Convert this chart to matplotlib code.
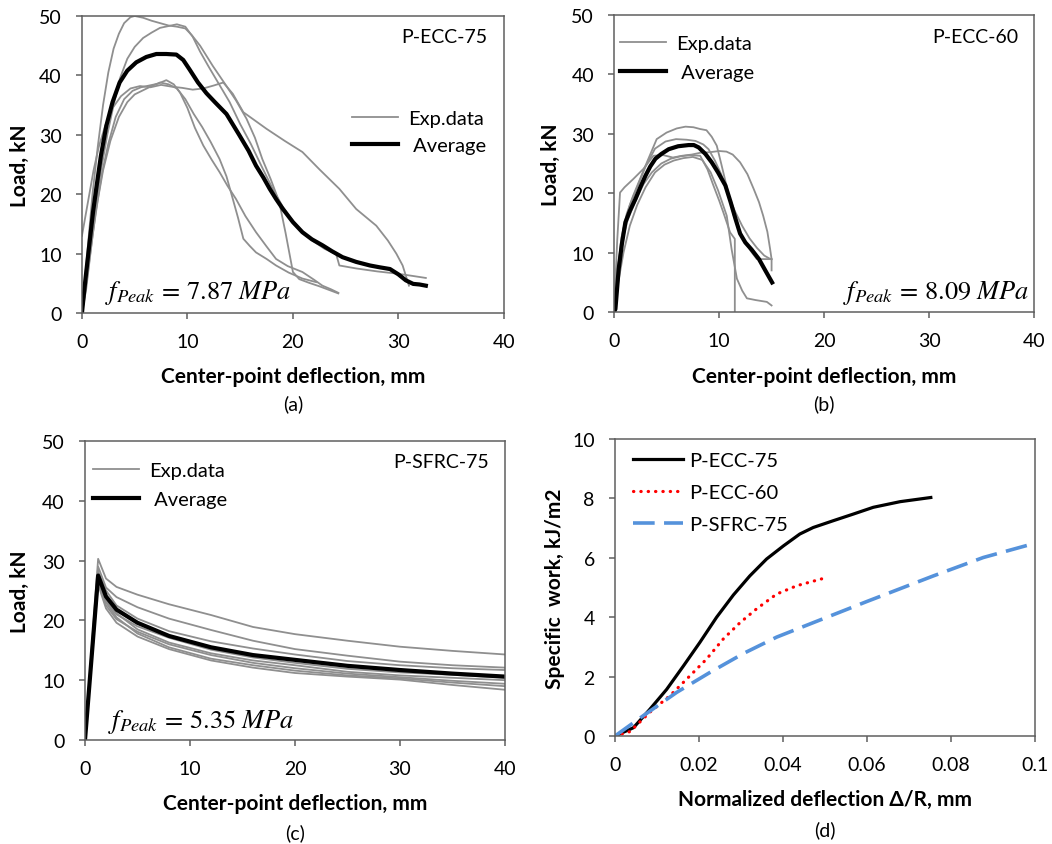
"""
Four-panel load-deflection figure (P-ECC-75, P-ECC-60, P-SFRC-75) plus
specific work vs normalized deflection. Saves out.png.
"""

import matplotlib
matplotlib.use("Agg")
import matplotlib.pyplot as plt
from matplotlib.lines import Line2D

plt.rcParams["font.family"] = ["Lato", "DejaVu Sans"]
plt.rcParams["mathtext.fontset"] = "stix"

GRAY = "#8f8f8f"
FRAME = "#5f5f5f"

# ---------------- (a) P-ECC-75 ----------------
a_avg_x = [0, 0.35, 0.73, 1.05, 1.36, 1.8, 2.31, 2.9, 3.57, 4.3, 5.15, 6.1, 7.05, 8.0, 8.95,
           9.6, 10.2, 11.0, 11.8, 12.6, 13.7, 14.9, 15.8, 16.5, 17.2, 17.8, 18.4, 19.05, 20.0,
           20.9, 21.8, 22.8, 23.7, 24.7, 26.0, 27.3, 28.2, 29.2, 30.0, 30.7, 31.4, 32.0, 32.6]
a_avg_y = [0, 6, 12, 17, 21, 26.5, 31.5, 35.5, 38.8, 40.8, 42.2, 43.1, 43.6, 43.6, 43.5,
           42.6, 41, 38.8, 37, 35.5, 33.5, 30, 27.3, 24.8, 22.8, 20.9, 19.2, 17.5, 15.3,
           13.6, 12.4, 11.4, 10.4, 9.4, 8.6, 8.0, 7.7, 7.4, 6.5, 5.5, 4.9, 4.8, 4.6]

a_exp1_x = [0, 0.3, 0.7, 1.0, 1.5, 2.0, 2.5, 3.0, 3.5, 4.0, 4.6, 5.0, 5.8, 6.6, 7.4, 8.2, 9.0,
            9.8, 10.4, 11.2, 12.4, 13.7, 14.6, 15.6, 16.4, 17.1, 17.9, 18.7, 19.3, 20.0, 20.6,
            21.5, 22.5, 23.4, 24.3]
a_exp1_y = [0, 6, 14, 20, 28, 35, 40.5, 44.5, 47, 48.8, 49.8, 50, 49.7, 49.2, 48.8, 48.4, 48.2,
            47.9, 46.8, 45, 41.6, 38.2, 35.8, 32.7, 29.5, 25.9, 22.5, 18.7, 13.5, 6.9, 5.7,
            5.1, 4.5, 3.9, 3.3]
a_exp2_x = [0, 0.4, 0.8, 1.2, 1.8, 2.4, 3.0, 3.6, 4.3, 5.0, 5.8, 6.6, 7.4, 8.2, 9.0, 9.8, 10.5,
            11.2, 12.0, 13.0, 14.0, 15.0, 16.0, 17.0, 18.0, 19.0, 20.0, 21.0, 22.0, 23.0, 24.1,
            24.4, 26.0, 28.0, 30.0, 31.5, 32.6]
a_exp2_y = [0, 5, 11, 17, 24, 30, 35, 39.5, 42.8, 44.8, 46.3, 47.2, 48, 48.3, 48.6, 48.2, 46.5,
            44, 41.5, 38.5, 35.5, 31.8, 28.5, 24.8, 21.2, 18, 15.5, 13.5, 12, 10.8, 9.9,
            8.0, 7.5, 7.0, 6.6, 6.2, 5.9]
a_exp3_x = [0, 0.4, 0.8, 1.3, 1.9, 2.5, 3.2, 4.0, 4.8, 5.6, 6.4, 7.2, 8.0, 8.7, 9.3, 10.0, 10.7,
            11.5, 12.3, 13.05, 13.8, 14.6, 15.5, 16.5, 17.5, 18.4, 19.5, 20.9, 22.0, 22.8, 23.6,
            24.3]
a_exp3_y = [0, 4, 10, 17, 23.5, 28.5, 33, 36, 37.4, 38, 38.3, 38.6, 39.2, 38.5, 37.1, 34.5, 31.2,
            28.2, 25.8, 23.7, 21.4, 19.2, 16.3, 13.6, 11.2, 9.1, 7.9, 6.9, 5.6, 4.6, 4.0, 3.4]
a_exp4_x = [0, 0.5, 1.0, 1.5, 2.0, 2.7, 3.5, 4.3, 5.0, 5.8, 6.6, 7.4, 8.2, 9.0, 9.8, 10.6, 11.4,
            12.2, 13.05, 13.7, 14.3, 14.8, 15.3, 15.9, 16.5, 17.5, 18.4, 19.6, 20.9, 22.2]
a_exp4_y = [0, 6, 13, 19, 24, 29, 33, 35.5, 36.8, 37.5, 38.2, 38.8, 38.5, 37.8, 36, 33.5, 31.3,
            28.8, 25.9, 23, 19.2, 16, 12.5, 11.3, 10.2, 9.1, 8.0, 6.8, 5.8, 5.2]
a_exp5_x = [0, 0.3, 0.7, 1.1, 1.6, 2.2, 2.9, 3.7, 4.6, 5.5, 6.5, 7.5, 8.5, 9.5, 10.5, 11.5, 12.5,
            13.4, 14.3, 15.3, 16.4, 17.5, 19.2, 20.9, 22.5, 24.4, 26.0, 27.9, 29.0, 29.8, 30.4,
            30.7, 31.0]
a_exp5_y = [13, 16, 20, 24, 28, 31.5, 34.5, 36.5, 37.8, 38.2, 38.0, 38.4, 38.1, 37.9, 37.6, 37.8,
            38.3, 38.8, 36.9, 33.8, 32.4, 31.0, 29.0, 27.1, 24.2, 20.9, 17.5, 14.7, 12.2, 10.0,
            8.0, 6.3, 4.6]

# ---------------- (b) P-ECC-60 ----------------
b_avg_x = [0, 0.13, 0.44, 0.75, 1.08, 1.5, 2.03, 2.5, 2.98, 3.45, 3.94, 4.5, 5.2, 6.1, 7.1, 7.6,
           8.06, 8.7, 9.3, 9.9, 10.6, 11.1, 11.56, 12.0, 12.5, 13.1, 13.8, 14.4, 15.05]
b_avg_y = [0, 0.5, 7.2, 11.5, 15.1, 17, 19, 21, 22.9, 24.5, 25.8, 26.6, 27.4, 27.9, 28.1, 28.1,
           27.7, 26.6, 25.2, 23.5, 21.3, 18.5, 15.7, 13.2, 11.7, 10.5, 8.9, 7.0, 4.97]

b_exp1_x = [0, 0.3, 0.7, 1.2, 1.8, 2.5, 3.2, 4.06, 5.0, 5.97, 6.8, 7.56, 8.2, 8.8, 9.3, 9.78,
            10.2, 10.7, 11.4, 12.3, 13.0, 13.6, 14.3, 15.0, 15.0]
b_exp1_y = [0, 6, 12.5, 16.5, 19.5, 22.5, 25.5, 29.1, 30.2, 30.9, 31.2, 31.1, 30.8, 30.6, 29.5,
            28.0, 25, 21.3, 16.2, 12.3, 10.3, 8.9, 8.9, 8.9, 7.0]
b_exp2_x = [0, 0.3, 0.57, 1.0, 1.84, 2.8, 3.75, 4.7, 5.6, 6.5, 7.4, 8.2, 9.14, 10.0, 10.7, 11.3,
            12.0, 12.7, 13.3, 13.8, 14.2, 14.6, 14.86, 15.0]
b_exp2_y = [0, 12, 20.1, 21, 22.4, 24.1, 26.3, 26.4, 26.0, 26.3, 26.5, 26.8, 26.9, 27.1, 27.0,
            26.5, 25.2, 23.2, 20.7, 18.5, 16.2, 13.5, 10.6, 8.9]
b_exp3_x = [0, 0.4, 0.8, 1.3, 2.0, 2.8, 3.6, 4.5, 5.4, 6.3, 7.2, 8.2, 8.9, 9.46, 10.0, 10.4,
            11.05, 11.5, 11.5]
b_exp3_y = [0, 7, 12, 15.5, 18.5, 21.5, 23.5, 25, 25.8, 26.2, 26.4, 26.3, 24, 21.3, 18.8, 16.8,
            13.4, 12.3, 0]
b_exp4_x = [0, 0.4, 0.9, 1.5, 2.2, 3.0, 3.9, 4.8, 5.7, 6.6, 7.5, 8.4, 9.2, 9.9, 10.73, 11.2,
            11.7, 12.2, 12.65, 13.5, 14.55, 15.0]
b_exp4_y = [0, 5, 10, 14.5, 18, 21, 23.5, 24.8, 25.5, 25.9, 26.1, 25.6, 23.5, 20.5, 16.2, 10.5,
            5.6, 3.6, 2.3, 2.0, 1.7, 1.1]
b_exp5_x = [0, 0.4, 0.9, 1.5, 2.2, 3.0, 3.9, 4.9, 5.9, 6.9, 7.75, 8.5, 9.0, 9.6, 10.2, 10.8,
            11.5, 12.2, 12.9, 13.6, 14.3, 14.8, 15.0]
b_exp5_y = [0, 8, 14, 18, 21, 24.5, 27.5, 28.7, 29.1, 29.0, 28.8, 28.2, 27.4, 25.5, 23.2, 20.0,
            17.0, 14.5, 12.4, 10.8, 9.5, 9.0, 8.9]

# ---------------- (c) P-SFRC-75 ----------------
c_x = [0, 1.25, 2, 3, 5, 8, 12, 16, 20, 25, 30, 35, 40]
c_avg_y = [0, 27.5, 24.0, 21.8, 19.6, 17.4, 15.5, 14.2, 13.4, 12.4, 11.7, 11.1, 10.6]
c_exp1_y = [0, 30.3, 27.0, 25.6, 24.3, 22.7, 20.9, 18.9, 17.7, 16.6, 15.6, 14.9, 14.3]
c_exp2_y = [0, 29.0, 25.5, 23.9, 22.2, 20.3, 18.4, 16.6, 15.2, 14.1, 13.1, 12.5, 12.1]
c_exp3_y = [0, 28.2, 25.0, 22.5, 20.3, 18.2, 16.5, 15.3, 14.3, 13.2, 12.5, 12.0, 11.7]
c_exp4_y = [0, 26.8, 23.2, 21.0, 19.0, 17.1, 15.1, 13.8, 12.9, 11.9, 11.3, 10.9, 10.4]
c_exp5_y = [0, 27.8, 23.5, 21.2, 18.5, 16.3, 14.5, 13.3, 12.5, 11.4, 10.8, 10.4, 10.0]
c_exp6_y = [0, 26.5, 22.5, 20.2, 18.1, 16.0, 14.2, 12.9, 12.0, 11.1, 10.5, 9.9, 9.4]
c_exp7_y = [0, 27.2, 23.0, 20.5, 17.8, 15.5, 13.6, 12.5, 11.6, 10.8, 10.3, 9.6, 9.0]
c_exp8_y = [0, 26.0, 22.0, 19.6, 17.3, 15.2, 13.3, 12.1, 11.2, 10.6, 10.1, 9.2, 8.4]

# ---------------- (d) specific work ----------------
d_ecc75_x = [0, 0.0044, 0.0083, 0.0123, 0.0163, 0.0202, 0.0242, 0.0282, 0.0321, 0.0361, 0.0401,
             0.044, 0.0472, 0.052, 0.0567, 0.0615, 0.0679, 0.0752]
d_ecc75_y = [0, 0.28, 0.9, 1.57, 2.36, 3.15, 4.0, 4.75, 5.39, 5.96, 6.4, 6.8, 7.02, 7.25, 7.47,
             7.7, 7.89, 8.03]
d_ecc60_x = [0, 0.0036, 0.0083, 0.0131, 0.0171, 0.0218, 0.0258, 0.0298, 0.0337, 0.0385, 0.0433,
             0.0492]
d_ecc60_y = [0, 0.15, 0.8, 1.36, 1.92, 2.59, 3.27, 3.82, 4.28, 4.78, 5.06, 5.29]
d_sfrc_x = [0, 0.0067, 0.0147, 0.0226, 0.0306, 0.0385, 0.0496, 0.06, 0.0758, 0.0877, 0.1]
d_sfrc_y = [0, 0.68, 1.47, 2.14, 2.78, 3.33, 3.95, 4.53, 5.39, 6.01, 6.49]

FS = 14


def style(ax, xmax, ymax, xstep, ystep):
    ax.set_xlim(0, xmax)
    ax.set_ylim(0, ymax)
    ax.set_xticks([i * xstep for i in range(int(round(xmax / xstep)) + 1)])
    ax.set_yticks([i * ystep for i in range(int(round(ymax / ystep)) + 1)])
    for s in ax.spines.values():
        s.set_color(FRAME)
        s.set_linewidth(1.1)
    ax.tick_params(direction="out", length=4.5, width=1.1, color=FRAME,
                   labelsize=FS, pad=10)


def labels(ax, xlab, ylab, cap, ylab_x, xlab_y, cap_y):
    ax.set_xlabel(xlab, fontsize=15, fontweight="bold")
    ax.xaxis.set_label_coords(0.5, xlab_y)
    ax.xaxis.label.set_va("center")
    ax.set_ylabel(ylab, fontsize=15, fontweight="bold")
    ax.yaxis.set_label_coords(ylab_x, 0.5)
    ax.yaxis.label.set_va("center")
    ax.text(0.5, cap_y, cap, transform=ax.transAxes, ha="center", va="center",
            fontsize=FS)


def exp_legend(ax, x0, y0, spacing):
    handles = [Line2D([0], [0], color=GRAY, lw=1.3),
               Line2D([0], [0], color="black", lw=3)]
    ax.legend(handles, ["Exp.data", " Average"], loc="center left",
              bbox_to_anchor=(x0, y0), frameon=False, fontsize=FS + 0.5,
              borderpad=0, borderaxespad=0, handlelength=2.3,
              handletextpad=0.5, labelspacing=spacing)


fig = plt.figure(figsize=(10.52, 8.45), dpi=100)

# (a)
ax = fig.add_axes([0.0779, 0.6284, 0.4011, 0.3515])
for xs, ys in [(a_exp1_x, a_exp1_y), (a_exp2_x, a_exp2_y), (a_exp3_x, a_exp3_y),
               (a_exp4_x, a_exp4_y), (a_exp5_x, a_exp5_y)]:
    ax.plot(xs, ys, color=GRAY, lw=1.3)
ax.plot(a_avg_x, a_avg_y, color="black", lw=3)
style(ax, 40, 50, 10, 10)
labels(ax, "Center-point deflection, mm", "Load, kN", "(a)", -0.147, -0.212, -0.305)
exp_legend(ax, 0.64, 0.61, 0.52)
ax.text(0.962, 0.93, "P-ECC-75", transform=ax.transAxes, ha="right", va="center", fontsize=FS)
ax.text(0.055, 0.07, r"$f_{Peak}\,=\,7.87\ MPa$", transform=ax.transAxes, ha="left",
        va="center", fontsize=19)

# (b)
ax = fig.add_axes([0.5837, 0.6296, 0.3993, 0.3515])
for xs, ys in [(b_exp1_x, b_exp1_y), (b_exp2_x, b_exp2_y), (b_exp3_x, b_exp3_y),
               (b_exp4_x, b_exp4_y), (b_exp5_x, b_exp5_y)]:
    ax.plot(xs, ys, color=GRAY, lw=1.3)
ax.plot(b_avg_x, b_avg_y, color="black", lw=3)
style(ax, 40, 50, 10, 10)
labels(ax, "Center-point deflection, mm", "Load, kN", "(b)", -0.15, -0.215, -0.308)
exp_legend(ax, 0.014, 0.855, 0.6)
ax.text(0.962, 0.926, "P-ECC-60", transform=ax.transAxes, ha="right", va="center", fontsize=FS)
ax.text(0.988, 0.067, r"$f_{Peak}\,=\,8.09\ MPa$", transform=ax.transAxes, ha="right",
        va="center", fontsize=19)

# (c)
ax = fig.add_axes([0.0808, 0.1231, 0.3992, 0.3538])
for ys in [c_exp1_y, c_exp2_y, c_exp3_y, c_exp4_y, c_exp5_y, c_exp6_y, c_exp7_y, c_exp8_y]:
    ax.plot(c_x, ys, color=GRAY, lw=1.3)
ax.plot(c_x, c_avg_y, color="black", lw=3)
style(ax, 40, 50, 10, 10)
labels(ax, "Center-point deflection, mm", "Load, kN", "(c)", -0.155, -0.21, -0.31)
exp_legend(ax, 0.019, 0.853, 0.6)
ax.text(0.962, 0.93, "P-SFRC-75", transform=ax.transAxes, ha="right", va="center", fontsize=FS)
ax.text(0.055, 0.064, r"$f_{Peak}\,=\,5.35\ MPa$", transform=ax.transAxes, ha="left",
        va="center", fontsize=19)

# (d)
ax = fig.add_axes([0.5846, 0.1278, 0.3992, 0.3515])
ax.plot(d_ecc75_x, d_ecc75_y, color="black", lw=2.3, label="P-ECC-75")
ax.plot(d_ecc60_x, d_ecc60_y, color="#ff0000", lw=2.3, linestyle=(0, (0.1, 2.2)),
        dash_capstyle="round", label="P-ECC-60")
ax.plot(d_sfrc_x, d_sfrc_y, color="#5592db", lw=2.6, linestyle=(0, (6, 2.6)),
        label="P-SFRC-75")
style(ax, 0.1, 10, 0.02, 2)
ax.set_xticklabels(["0", "0.02", "0.04", "0.06", "0.08", "0.1"])
labels(ax, "Normalized deflection \u0394/R, mm", "Specific  work, kJ/m2", "(d)", -0.143,
       -0.212, -0.315)
ax.legend(loc="center left", bbox_to_anchor=(0.043, 0.82), frameon=False, fontsize=FS + 0.5,
          borderpad=0, borderaxespad=0, handlelength=2.5, handletextpad=0.3,
          labelspacing=0.75)

fig.savefig("out.png", dpi=100)
